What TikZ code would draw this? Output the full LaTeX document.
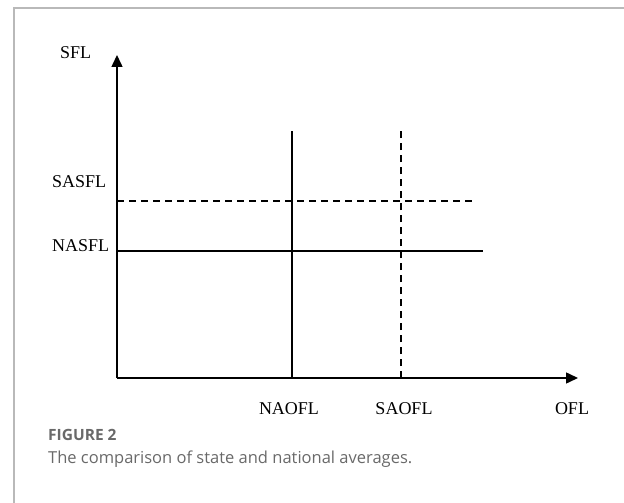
\documentclass[tikz,border=0pt]{standalone}
\usepackage{fontspec}
\setmainfont{Liberation Serif}
\newfontfamily\capfont{Open Sans}
\usetikzlibrary{arrows.meta}
\definecolor{frame}{RGB}{185,185,185}
\definecolor{capgray}{RGB}{105,105,105}
\tikzset{
  axis/.style={line width=1.5pt,-{Triangle[length=12pt,width=11pt]}},
  solidline/.style={line width=1.4pt},
  dashline/.style={line width=1.4pt,dash pattern=on 7pt off 5pt},
  lab/.style={font=\fontsize{18}{21}\selectfont,inner sep=0pt},
}
\begin{document}
\begin{tikzpicture}[x=1pt,y=-1pt]
\useasboundingbox (0,0) rectangle (624,503);
\draw[frame,line width=1.5pt] (14,503) -- (14,8) -- (624,8);
\coordinate (O) at (117,378);
\coordinate (ytip) at (117,55);
\coordinate (xtip) at (578,378);
\draw[axis] (O) -- (ytip);
\draw[axis] (O) -- (xtip);
\coordinate (na0) at (292,378); \coordinate (na1) at (292,131);
\coordinate (sa0) at (401,378); \coordinate (sa1) at (401,131);
\coordinate (ss1) at (474,201); \coordinate (ss0) at (117,201);
\coordinate (ns1) at (483,251); \coordinate (ns0) at (117,251);
\draw[solidline] (na0) -- (na1);
\draw[dashline] (sa0) -- (sa1);
\draw[dashline] (ss0) -- (ss1);
\draw[solidline] (ns0) -- (ns1);
\node[lab,anchor=west] (sfl) at (60,53) {SFL};
\node[lab,anchor=west] (sasfl) at (52,182) {SASFL};
\node[lab,anchor=west] (nasfl) at (52,246) {NASFL};
\node[lab] (naofl) at (289,409) {NAOFL};
\node[lab] (saofl) at (404,409) {SAOFL};
\node[lab] (ofl) at (572,409) {OFL};
\node[anchor=west,inner sep=0pt,text=capgray,font=\capfont\bfseries\fontsize{15.5}{18}\selectfont] (fig) at (48,435) {FIGURE 2};
\node[anchor=west,inner sep=0pt,text=capgray,font=\capfont\fontsize{16.5}{19}\selectfont] (cap) at (48,459) {The comparison of state and national averages.};
\end{tikzpicture}
\end{document}
